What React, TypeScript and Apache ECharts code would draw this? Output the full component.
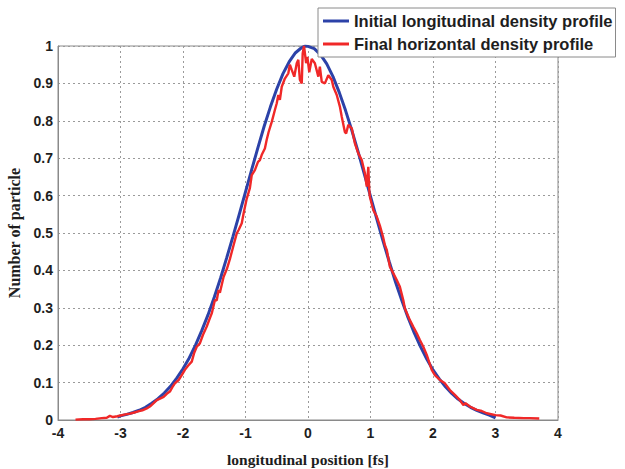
import React, { useEffect, useRef } from "react";
import * as echarts from "echarts";

const xTicks = [-4, 4, 1];
const yTicks = [0, 1, 0.1];

const seriesNames = [
  "Initial longitudinal density profile",
  "Final horizontal density profile",
];

// Initial profile (blue), [position, value]
const initialProfile: [number, number][] = [
  [-3.05, 0.008], [-3.0, 0.011], [-2.9, 0.015], [-2.8, 0.02], [-2.7, 0.026], [-2.6, 0.034],
  [-2.5, 0.045], [-2.4, 0.057], [-2.3, 0.072], [-2.2, 0.09], [-2.1, 0.112], [-2.0, 0.137],
  [-1.9, 0.166], [-1.8, 0.2], [-1.7, 0.239], [-1.6, 0.281], [-1.5, 0.328], [-1.4, 0.379],
  [-1.3, 0.434], [-1.2, 0.491], [-1.1, 0.55], [-1.0, 0.61], [-0.9, 0.67], [-0.8, 0.729],
  [-0.7, 0.786], [-0.6, 0.838], [-0.5, 0.885], [-0.4, 0.926], [-0.3, 0.958], [-0.2, 0.982],
  [-0.1, 0.996], [-0.05, 1.0], [0.0, 0.999], [0.1, 0.993], [0.2, 0.977], [0.3, 0.952],
  [0.4, 0.918], [0.5, 0.876], [0.6, 0.828], [0.7, 0.775], [0.8, 0.718], [0.9, 0.658],
  [1.0, 0.598], [1.1, 0.538], [1.2, 0.479], [1.3, 0.423], [1.4, 0.369], [1.5, 0.32],
  [1.6, 0.274], [1.7, 0.233], [1.8, 0.196], [1.9, 0.163], [2.0, 0.134], [2.1, 0.11],
  [2.2, 0.089], [2.3, 0.071], [2.4, 0.056], [2.5, 0.044], [2.6, 0.034], [2.7, 0.026],
  [2.8, 0.019], [2.9, 0.013], [3.0, 0.006],
];

// Final profile (red), [position, value]
const finalProfile: [number, number][] = [
  [-3.72, 0.001], [-3.6, 0.002], [-3.5, 0.002], [-3.4, 0.003], [-3.3, 0.005], [-3.22, 0.006],
  [-3.17, 0.011], [-3.12, 0.008], [-3.05, 0.01], [-3.0, 0.012], [-2.92, 0.015], [-2.85, 0.017],
  [-2.78, 0.02], [-2.72, 0.023], [-2.65, 0.026], [-2.58, 0.031], [-2.53, 0.036], [-2.47, 0.045],
  [-2.42, 0.053], [-2.36, 0.058], [-2.31, 0.062], [-2.26, 0.07], [-2.21, 0.076], [-2.17, 0.088],
  [-2.13, 0.098], [-2.07, 0.107], [-2.02, 0.12], [-1.97, 0.134], [-1.92, 0.145], [-1.86, 0.156],
  [-1.82, 0.18], [-1.78, 0.196], [-1.73, 0.205], [-1.68, 0.228], [-1.62, 0.25], [-1.58, 0.268],
  [-1.54, 0.285], [-1.49, 0.32], [-1.46, 0.32], [-1.43, 0.348], [-1.41, 0.34], [-1.35, 0.383],
  [-1.3, 0.403], [-1.25, 0.43], [-1.19, 0.468], [-1.14, 0.499], [-1.11, 0.508], [-1.06, 0.526],
  [-1.03, 0.553], [-0.98, 0.592], [-0.93, 0.62], [-0.9, 0.655], [-0.85, 0.668], [-0.8, 0.69],
  [-0.77, 0.695], [-0.74, 0.709], [-0.69, 0.726], [-0.66, 0.75], [-0.63, 0.77], [-0.58, 0.797],
  [-0.53, 0.829], [-0.5, 0.847], [-0.475, 0.869], [-0.45, 0.856], [-0.42, 0.891], [-0.37, 0.913],
  [-0.315, 0.927], [-0.29, 0.95], [-0.26, 0.936], [-0.22, 0.918], [-0.18, 0.954], [-0.155, 0.963],
  [-0.13, 0.91], [-0.1, 0.9], [-0.085, 0.98], [-0.064, 1.0], [-0.03, 0.954], [-0.01, 0.971],
  [0.02, 0.93], [0.06, 0.965], [0.11, 0.954], [0.165, 0.918], [0.19, 0.945], [0.22, 0.904],
  [0.27, 0.9], [0.325, 0.922], [0.38, 0.909], [0.405, 0.891], [0.46, 0.869], [0.51, 0.838],
  [0.54, 0.811], [0.59, 0.77], [0.61, 0.766], [0.645, 0.789], [0.7, 0.78], [0.75, 0.74],
  [0.805, 0.713], [0.86, 0.695], [0.91, 0.66], [0.94, 0.624], [0.965, 0.677], [0.98, 0.615],
  [0.99, 0.597], [1.045, 0.561], [1.1, 0.544], [1.15, 0.52], [1.2, 0.49], [1.23, 0.468],
  [1.26, 0.455], [1.31, 0.41], [1.365, 0.392], [1.42, 0.374], [1.47, 0.356], [1.525, 0.32],
  [1.55, 0.298], [1.63, 0.267], [1.685, 0.249], [1.74, 0.232], [1.79, 0.214], [1.845, 0.196],
  [1.9, 0.174], [1.98, 0.134], [2.03, 0.12], [2.11, 0.107], [2.19, 0.098], [2.27, 0.08],
  [2.35, 0.067], [2.43, 0.053], [2.485, 0.04], [2.52, 0.045], [2.59, 0.036], [2.7, 0.027],
  [2.78, 0.024], [2.86, 0.018], [3.0, 0.013], [3.08, 0.012], [3.18, 0.007], [3.3, 0.006],
  [3.45, 0.005], [3.55, 0.005], [3.7, 0.004],
];

const colors = ["#2c42a8", "#f02828"];

export default function App() {
  const ref = useRef<HTMLDivElement>(null);
  useEffect(() => {
    if (!ref.current) return;
    const chart = echarts.init(ref.current, undefined, { renderer: "svg" });
    const tickFont = {
      fontFamily: "Liberation Sans, Arial, sans-serif",
      fontWeight: "bold" as const,
      fontSize: 14,
      color: "#1e1e1e",
    };
    const nameFont = {
      fontFamily: "Liberation Serif, Times New Roman, serif",
      fontWeight: "bold" as const,
      color: "#1e1e1e",
    };
    chart.setOption({
      animation: false,
      backgroundColor: "#fff",
      grid: {
        left: 58,
        right: 67,
        top: 46,
        bottom: 49,
        show: true,
        borderColor: "#8a8a8a",
        borderWidth: 1,
        backgroundColor: "transparent",
        outerBoundsMode: "none",
        containLabel: false,
      },
      legend: {
        left: 318,
        top: 8,
        orient: "vertical",
        backgroundColor: "#fff",
        borderColor: "#8a8a8a",
        borderWidth: 1,
        padding: [4, 3, 4, 5],
        itemGap: 5,
        itemWidth: 26,
        itemHeight: 3,
        icon: "rect",
        textStyle: {
          fontFamily: "Liberation Sans, Arial, sans-serif",
          fontWeight: "bold",
          fontSize: 16.5,
          color: "#1e1e1e",
          lineHeight: 18,
        },
        data: seriesNames,
      },
      xAxis: {
        type: "value",
        min: xTicks[0],
        max: xTicks[1],
        interval: xTicks[2],
        name: "longitudinal position [fs]",
        nameLocation: "middle",
        nameGap: 31,
        nameTextStyle: { ...nameFont, fontSize: 15.5 },
        axisLine: { show: true, onZero: false, lineStyle: { color: "#8a8a8a" } },
        axisTick: { show: false },
        axisLabel: { ...tickFont, margin: 6 },
        splitLine: {
          show: true,
          lineStyle: { color: "#9a9a9a", type: [2, 3], width: 1 },
        },
      },
      yAxis: {
        type: "value",
        min: yTicks[0],
        max: yTicks[1],
        interval: yTicks[2],
        name: "Number of particle",
        nameLocation: "middle",
        nameGap: 35,
        nameTextStyle: { ...nameFont, fontSize: 16 },
        axisLine: { show: true, onZero: false, lineStyle: { color: "#8a8a8a" } },
        axisTick: { show: false },
        axisLabel: { ...tickFont, margin: 5 },
        splitLine: {
          show: true,
          lineStyle: { color: "#9a9a9a", type: [2, 3], width: 1 },
        },
      },
      series: [
        {
          name: seriesNames[0],
          type: "line",
          data: initialProfile,
          showSymbol: false,
          symbol: "none",
          lineStyle: { color: colors[0], width: 3 },
          itemStyle: { color: colors[0] },
          z: 2,
        },
        {
          name: seriesNames[1],
          type: "line",
          data: finalProfile,
          showSymbol: false,
          symbol: "none",
          lineStyle: { color: colors[1], width: 2.4 },
          itemStyle: { color: colors[1] },
          z: 3,
        },
      ],
    });
    return () => chart.dispose();
  }, []);
  return (
    <div
      ref={ref}
      style={{ position: "fixed", left: 0, top: 0, width: 625, height: 469 }}
    />
  );
}
